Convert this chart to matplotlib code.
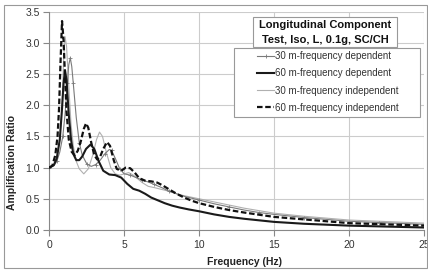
import matplotlib
matplotlib.use("Agg")
import matplotlib.pyplot as plt
from matplotlib.patches import Rectangle
from matplotlib.lines import Line2D

plt.rcParams['font.family'] = ['Liberation Sans', 'DejaVu Sans']

# 30 m - frequency dependent
f_30d = [0, 0.3, 0.5, 0.7, 0.9, 1.05, 1.2, 1.3, 1.4, 1.5, 1.6, 1.8, 2.0, 2.2, 2.5, 2.8, 3.1, 3.4,
         3.7, 4.0, 4.15, 4.4, 4.7, 5.0, 5.4, 5.8, 6.2, 6.6, 7.0, 7.5, 8.0, 9.0, 10, 11, 12, 13, 14,
         15, 17, 20, 22, 25]
v_30d = [1.0, 1.03, 1.1, 1.25, 1.5, 1.85, 2.35, 2.65, 2.76, 2.62, 2.35, 1.8, 1.4, 1.2, 1.06, 1.02,
         1.05, 1.12, 1.22, 1.29, 1.28, 1.15, 0.98, 0.9, 0.88, 0.84, 0.8, 0.77, 0.73, 0.68, 0.62, 0.54,
         0.48, 0.42, 0.37, 0.32, 0.28, 0.25, 0.2, 0.14, 0.12, 0.09]

# 60 m - frequency dependent
f_60d = [0, 0.3, 0.5, 0.7, 0.85, 0.95, 1.05, 1.15, 1.3, 1.45, 1.6, 1.8, 2.0, 2.2, 2.45, 2.75, 3.0,
         3.3, 3.6, 4.0, 4.4, 4.8, 5.2, 5.6, 6.0, 6.4, 6.8, 7.2, 7.7, 8.2, 8.7, 9.3, 10, 11, 12, 13,
         15, 17, 20, 25]
v_60d = [1.0, 1.04, 1.15, 1.45, 1.95, 2.35, 2.56, 2.4, 1.85, 1.45, 1.22, 1.12, 1.12, 1.18, 1.3,
         1.37, 1.3, 1.1, 0.95, 0.89, 0.88, 0.84, 0.74, 0.66, 0.63, 0.58, 0.52, 0.48, 0.43, 0.39,
         0.36, 0.33, 0.30, 0.25, 0.21, 0.18, 0.13, 0.1, 0.07, 0.04]

# 30 m - frequency independent
f_30i = [0, 0.3, 0.5, 0.7, 0.85, 0.95, 1.05, 1.15, 1.3, 1.45, 1.6, 1.8, 2.0, 2.3, 2.6, 2.9, 3.15,
         3.35, 3.55, 3.8, 4.1, 4.4, 4.7, 5.0, 5.3, 5.6, 5.9, 6.2, 6.6, 7.0, 7.5, 8.0, 8.5, 9.0, 10,
         11, 12, 13, 15, 17, 20, 25]
v_30i = [1.0, 1.05, 1.15, 1.45, 1.95, 2.7, 3.1, 2.95, 2.3, 1.7, 1.35, 1.1, 0.98, 0.9, 0.98, 1.2,
         1.45, 1.57, 1.5, 1.25, 1.0, 0.9, 0.88, 0.9, 0.92, 0.88, 0.82, 0.76, 0.7, 0.68, 0.65, 0.62,
         0.58, 0.55, 0.5, 0.45, 0.4, 0.35, 0.27, 0.22, 0.16, 0.11]

# 60 m - frequency independent
f_60i = [0, 0.2, 0.4, 0.55, 0.65, 0.75, 0.85, 0.95, 1.05, 1.15, 1.3, 1.5, 1.7, 1.9, 2.1, 2.3, 2.45,
         2.6, 2.8, 3.0, 3.2, 3.4, 3.6, 3.85, 4.05, 4.3, 4.5, 4.8, 5.1, 5.4, 5.7, 6.0, 6.4, 6.8, 7.2,
         7.6, 8.0, 8.5, 9.0, 9.5, 10, 11, 12, 13, 15, 17, 20, 25]
v_60i = [1.0, 1.03, 1.2, 1.5, 1.95, 2.7, 3.35, 3.05, 2.45, 1.9, 1.45, 1.25, 1.2, 1.27, 1.42, 1.62,
         1.71, 1.64, 1.4, 1.2, 1.13, 1.18, 1.3, 1.41, 1.35, 1.12, 0.98, 0.95, 1.0, 0.99, 0.92, 0.83,
         0.79, 0.78, 0.76, 0.71, 0.65, 0.58, 0.52, 0.47, 0.43, 0.37, 0.32, 0.28, 0.21, 0.17, 0.11,
         0.07]

labels = ["30 m-frequency dependent", "60 m-frequency dependent",
          "30 m-frequency independent", "60 m-frequency independent"]
title_lines = ["Longitudinal Component", "Test, Iso, L, 0.1g, SC/CH"]
xticks = [0, 5, 10, 15, 20, 25]
yticks = [0.0, 0.5, 1.0, 1.5, 2.0, 2.5, 3.0, 3.5]

W, H = 428, 270
fig = plt.figure(figsize=(W / 100, H / 100), dpi=100)
L, R, T, B = 49.3, 424, 11.7, 230
ax = fig.add_axes([L / W, 1 - B / H, (R - L) / W, (B - T) / H])

ax.plot(f_30i, v_30i, color='#b0b0b0', lw=0.8, zorder=2)
ax.plot(f_30d, v_30d, color='#7a7a7a', lw=0.8, marker='+', ms=3, mew=0.6, markevery=2, zorder=3)
ax.plot(f_60d, v_60d, color='#1a1a1a', lw=1.5, zorder=4)
ax.plot(f_60i, v_60i, color='#111111', lw=1.6, ls=(0, (2.5, 1.2)), zorder=5)

ax.set_xlim(0, 25)
ax.set_ylim(0, 3.5)
ax.set_xticks(xticks)
ax.set_yticks(yticks)
ax.set_yticklabels([f"{v:.1f}" for v in yticks])
ax.grid(True, color='#cccccc', lw=0.8)
ax.set_axisbelow(True)
for s in ['top', 'right']:
    ax.spines[s].set_visible(False)
for s in ['left', 'bottom']:
    ax.spines[s].set_color('#888888')
    ax.spines[s].set_linewidth(0.8)
ax.tick_params(direction='out', length=4, width=0.8, color='#888888',
               labelsize=7.5, labelcolor='#333333', pad=3)

ax.set_xlabel("Frequency (Hz)", fontsize=7.5, fontweight='bold', color='#222222', va='center')
ax.set_ylabel("Amplification Ratio", fontsize=7.5, fontweight='bold', color='#222222', va='center')
ax.xaxis.set_label_coords(0.52, -0.147)
ax.yaxis.set_label_coords(-0.1, 0.307)

# outer chart border
fig.add_artist(Rectangle((4 / W, 2 / H), 423 / W, 263 / H, transform=fig.transFigure,
                         fill=False, ec='#999999', lw=0.8))

# legend box
fig.add_artist(Rectangle((234 / W, 1 - 116.7 / H), (420 - 234) / W, (116.7 - 48) / H,
                         transform=fig.transFigure, fc='white', ec='#999999', lw=0.8, zorder=3))
# title box
fig.add_artist(Rectangle((253 / W, 1 - 46.7 / H), (397 - 253) / W, (46.7 - 16.7) / H,
                         transform=fig.transFigure, fc='white', ec='#999999', lw=0.8, zorder=3))
fig.text(325 / W, 1 - 25 / H, title_lines[0], ha='center', va='center', fontsize=8,
         fontweight='bold', color='#111111', zorder=4)
fig.text(325 / W, 1 - 40 / H, title_lines[1], ha='center', va='center', fontsize=8,
         fontweight='bold', color='#111111', zorder=4)

handles = [Line2D([], [], color='#7a7a7a', lw=0.8, marker='+', ms=3, mew=0.6),
           Line2D([], [], color='#1a1a1a', lw=1.5),
           Line2D([], [], color='#b0b0b0', lw=0.8),
           Line2D([], [], color='#111111', lw=1.6, ls=(0, (2.5, 1.2)))]
leg = fig.legend(handles, labels, loc='upper left', bbox_to_anchor=(257 / W, 1 - 51 / H),
                 frameon=False, fontsize=7, handlelength=1.75, handletextpad=0.15,
                 labelspacing=0.75, borderpad=0, borderaxespad=0, numpoints=1)
leg.set_zorder(5)
for t in leg.get_texts():
    t.set_color('#333333')

fig.savefig("out.png", dpi=100)
